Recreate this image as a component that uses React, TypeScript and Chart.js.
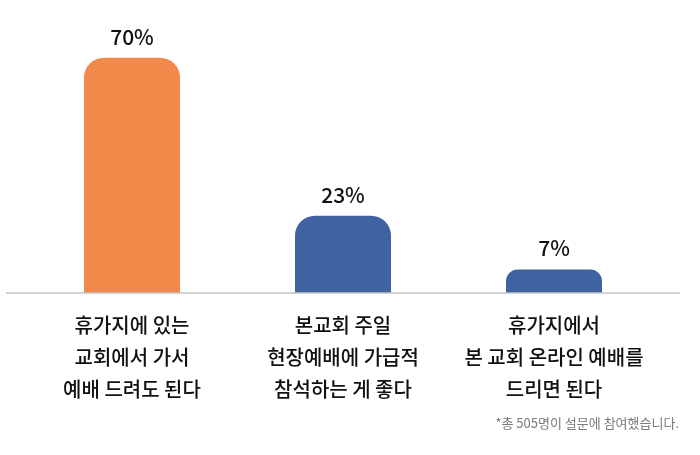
import { useEffect, useRef } from 'react';
import { Chart, registerables } from 'chart.js';

Chart.register(...registerables);

const categories = [
    ['휴가지에 있는', '교회에서 가서', '예배 드려도 된다'],
    ['본교회 주일', '현장예배에 가급적', '참석하는 게 좋다'],
    ['휴가지에서', '본 교회 온라인 예배를', '드리면 된다'],
];
const values = [70, 23, 7];
const barColors = ['#f0894a', '#3f62a0', '#3f62a0'];
const footnote = '*총 505명이 설문에 참여했습니다.';

const FONT = "'Noto Sans CJK KR', 'Noto Sans', sans-serif";

const extrasPlugin = {
    id: 'extrasPlugin',
    afterDatasetsDraw: (chart: any) => {
        const ctx = chart.ctx;
        const yScale = chart.scales.y;
        const baseY = yScale.getPixelForValue(0);
        ctx.save();

        // baseline across the whole width
        ctx.beginPath();
        ctx.moveTo(6, baseY);
        ctx.lineTo(680, baseY);
        ctx.lineWidth = 1.5;
        ctx.strokeStyle = '#c4c4c4';
        ctx.stroke();

        // value labels above bars
        const meta = chart.getDatasetMeta(0);
        ctx.fillStyle = '#111111';
        ctx.font = `500 21px ${FONT}`;
        ctx.textAlign = 'center';
        ctx.textBaseline = 'middle';
        meta.data.forEach((bar: any, i: number) => {
            ctx.fillText(values[i] + '%', bar.x, bar.y - 21);
        });

        // footnote
        ctx.fillStyle = '#7a7a7a';
        ctx.font = `13px ${FONT}`;
        ctx.textAlign = 'right';
        ctx.fillText(footnote, 679, 423);
        ctx.restore();
    }
};

const App: React.FC = () => {
    const chartRef = useRef<HTMLCanvasElement>(null);

    useEffect(() => {
        if (!chartRef.current) return;
        const ctx = chartRef.current.getContext('2d');
        if (!ctx) return;

        const chart = new Chart(ctx, {
            type: 'bar',
            data: {
                labels: categories,
                datasets: [
                    {
                        data: values,
                        backgroundColor: barColors,
                        borderWidth: 0,
                        borderRadius: { topLeft: 20, topRight: 20, bottomLeft: 0, bottomRight: 0 },
                        borderSkipped: false,
                        categoryPercentage: 1,
                        barPercentage: 0.455,
                    }
                ]
            },
            options: {
                animation: false,
                responsive: true,
                maintainAspectRatio: false,
                layout: {
                    padding: { left: 26.5, right: 40.5, top: 24, bottom: 0 }
                },
                scales: {
                    x: {
                        grid: { display: false, drawTicks: false },
                        border: { display: false },
                        ticks: {
                            color: '#111111',
                            padding: 16,
                            maxRotation: 0,
                            autoSkip: false,
                            font: { family: FONT, size: 20, weight: 500, lineHeight: 1.6 }
                        },
                        afterFit: (scale: any) => {
                            scale.height = 162;
                        }
                    },
                    y: {
                        display: false,
                        min: 0,
                        max: 80,
                    }
                },
                plugins: {
                    legend: { display: false },
                    tooltip: { enabled: false }
                }
            },
            plugins: [extrasPlugin]
        });

        return () => {
            chart.destroy();
        };
    }, []);

    return (
        <div style={{ position: 'fixed', left: 0, top: 0, width: 700, height: 455, background: '#ffffff' }}>
            <canvas ref={chartRef}></canvas>
        </div>
    );
};

export default App;
